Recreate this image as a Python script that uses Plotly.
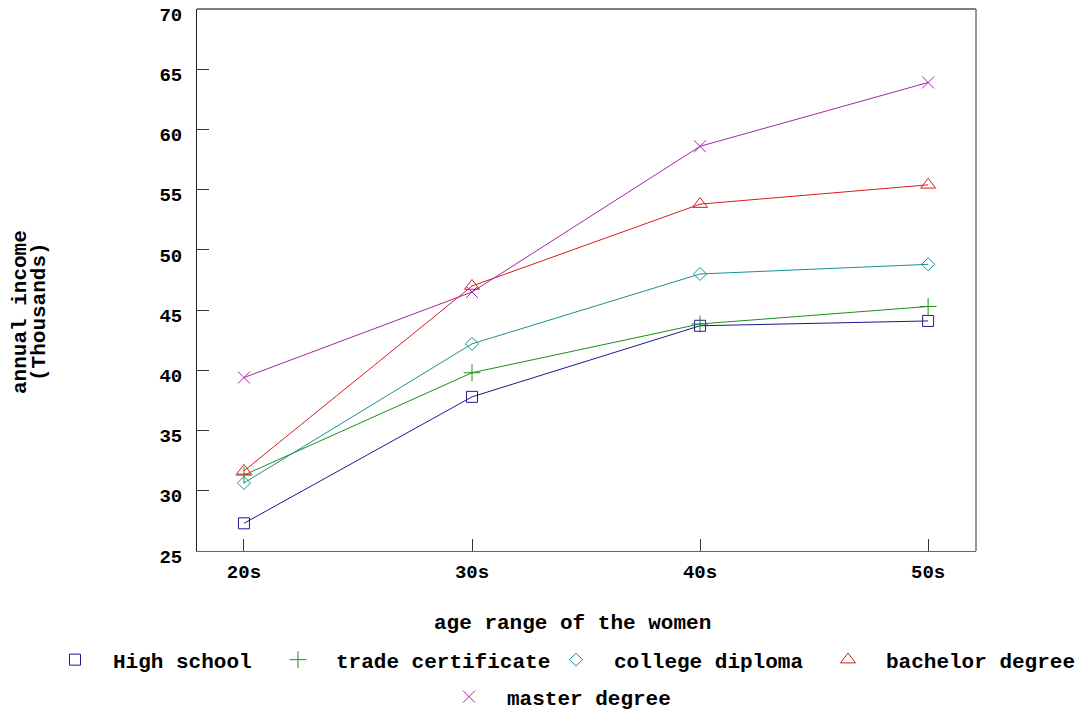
import plotly.graph_objects as go

categories = ["20s", "30s", "40s", "50s"]
high_school = [27.3, 37.8, 43.7, 44.1]
trade_certificate = [31.3, 39.8, 43.85, 45.3]
college_diploma = [30.65, 42.2, 48.0, 48.8]
bachelor_degree = [31.65, 47.0, 53.8, 55.4]
master_degree = [39.4, 46.5, 58.6, 63.9]

series = [
    ("High school", high_school, "#1a1a8f", "square-open", 11),
    ("trade certificate", trade_certificate, "#1a8f1a", "cross-thin-open", 12),
    ("college diploma", college_diploma, "#1a8f8f", "diamond-open", 10),
    ("bachelor degree", bachelor_degree, "#dd1a1a", "triangle-up-open", 13),
    ("master degree", master_degree, "#a526a5", "x-thin-open", 12),
]

# figure is drawn inside the page body (8px default margin), so figure coords = screen - 8
W, H = 1075, 703
ML, MR, MT, MB = 189, 107, 1, 160
PW, PH = W - ML - MR, H - MT - MB

ITEMW = 66
SYM_OFF = ITEMW / 2 + 5
# legend marker centers (figure pixels) and row centers
legend_pos = [(67, 652), (290, 652), (568, 652), (840, 652), (461, 689)]

FONT = "Liberation Mono"
tick_font = dict(family=FONT, size=19, color="black", weight="bold")
font = dict(family=FONT, size=21, color="black", weight="bold")

xs = list(range(len(categories)))
fig = go.Figure()
legend_layouts = {}
for i, (name, vals, color, sym, size) in enumerate(series):
    leg = "legend" if i == 0 else f"legend{i + 1}"
    fig.add_trace(go.Scatter(
        x=xs, y=vals, name=name, mode="lines", legendgroup=name, showlegend=False,
        line=dict(color=color, width=1),
    ))
    fig.add_trace(go.Scatter(
        x=xs, y=vals, name=name, mode="markers", legendgroup=name, legend=leg,
        marker=dict(symbol=sym, size=size, color=color, line=dict(color=color, width=1)),
    ))
    lx, ly = legend_pos[i]
    legend_layouts[leg] = dict(
        orientation="h", xref="container", yref="container",
        x=(lx - SYM_OFF) / W, xanchor="left", y=1 - ly / H, yanchor="middle",
        font=font, itemwidth=ITEMW, bgcolor="rgba(0,0,0,0)",
    )

fig.update_layout(
    width=W, height=H,
    margin=dict(l=ML, r=MR, t=MT, b=MB),
    paper_bgcolor="white", plot_bgcolor="white",
    font=font,
    showlegend=True,
    xaxis=dict(
        tickmode="array", tickvals=xs, ticktext=categories,
        range=[-0.206, 3.21], showgrid=False, zeroline=False,
        showline=True, linecolor="#666666", linewidth=1,
        ticks="inside", ticklen=12, tickcolor="#333333",
        ticklabelstandoff=3, automargin=False, ticklabeloverflow="allow",
        tickfont=tick_font,
    ),
    yaxis=dict(
        range=[25, 70], tickmode="linear", tick0=25, dtick=5,
        showgrid=False, zeroline=False,
        showline=True, linecolor="#222222", linewidth=1,
        ticks="inside", ticklen=12, tickcolor="#333333",
        ticklabelstandoff=10, ticklabelshift=5,
        automargin=False, ticklabeloverflow="allow",
        tickfont=tick_font,
    ),
    shapes=[
        dict(type="line", xref="paper", yref="paper", x0=0, x1=1, y0=1, y1=1,
             line=dict(color="black", width=1)),
        dict(type="line", xref="paper", yref="paper", x0=1, x1=1, y0=0, y1=1,
             line=dict(color="#777777", width=1.5)),
    ],
    annotations=[
        dict(text="age range of the women", xref="paper", yref="paper",
             x=(564 - ML) / PW, y=(MT + PH - 615) / PH, showarrow=False,
             xanchor="center", yanchor="middle", font=font),
        dict(text="annual income", textangle=-90, xref="paper", yref="paper",
             x=(12 - ML) / PW, y=(MT + PH - 304) / PH, showarrow=False,
             xanchor="center", yanchor="middle", font=font),
        dict(text="(Thousands)", textangle=-90, xref="paper", yref="paper",
             x=(31 - ML) / PW, y=(MT + PH - 304) / PH, showarrow=False,
             xanchor="center", yanchor="middle", font=font),
    ],
    **legend_layouts,
)

fig.write_html("out.html")
